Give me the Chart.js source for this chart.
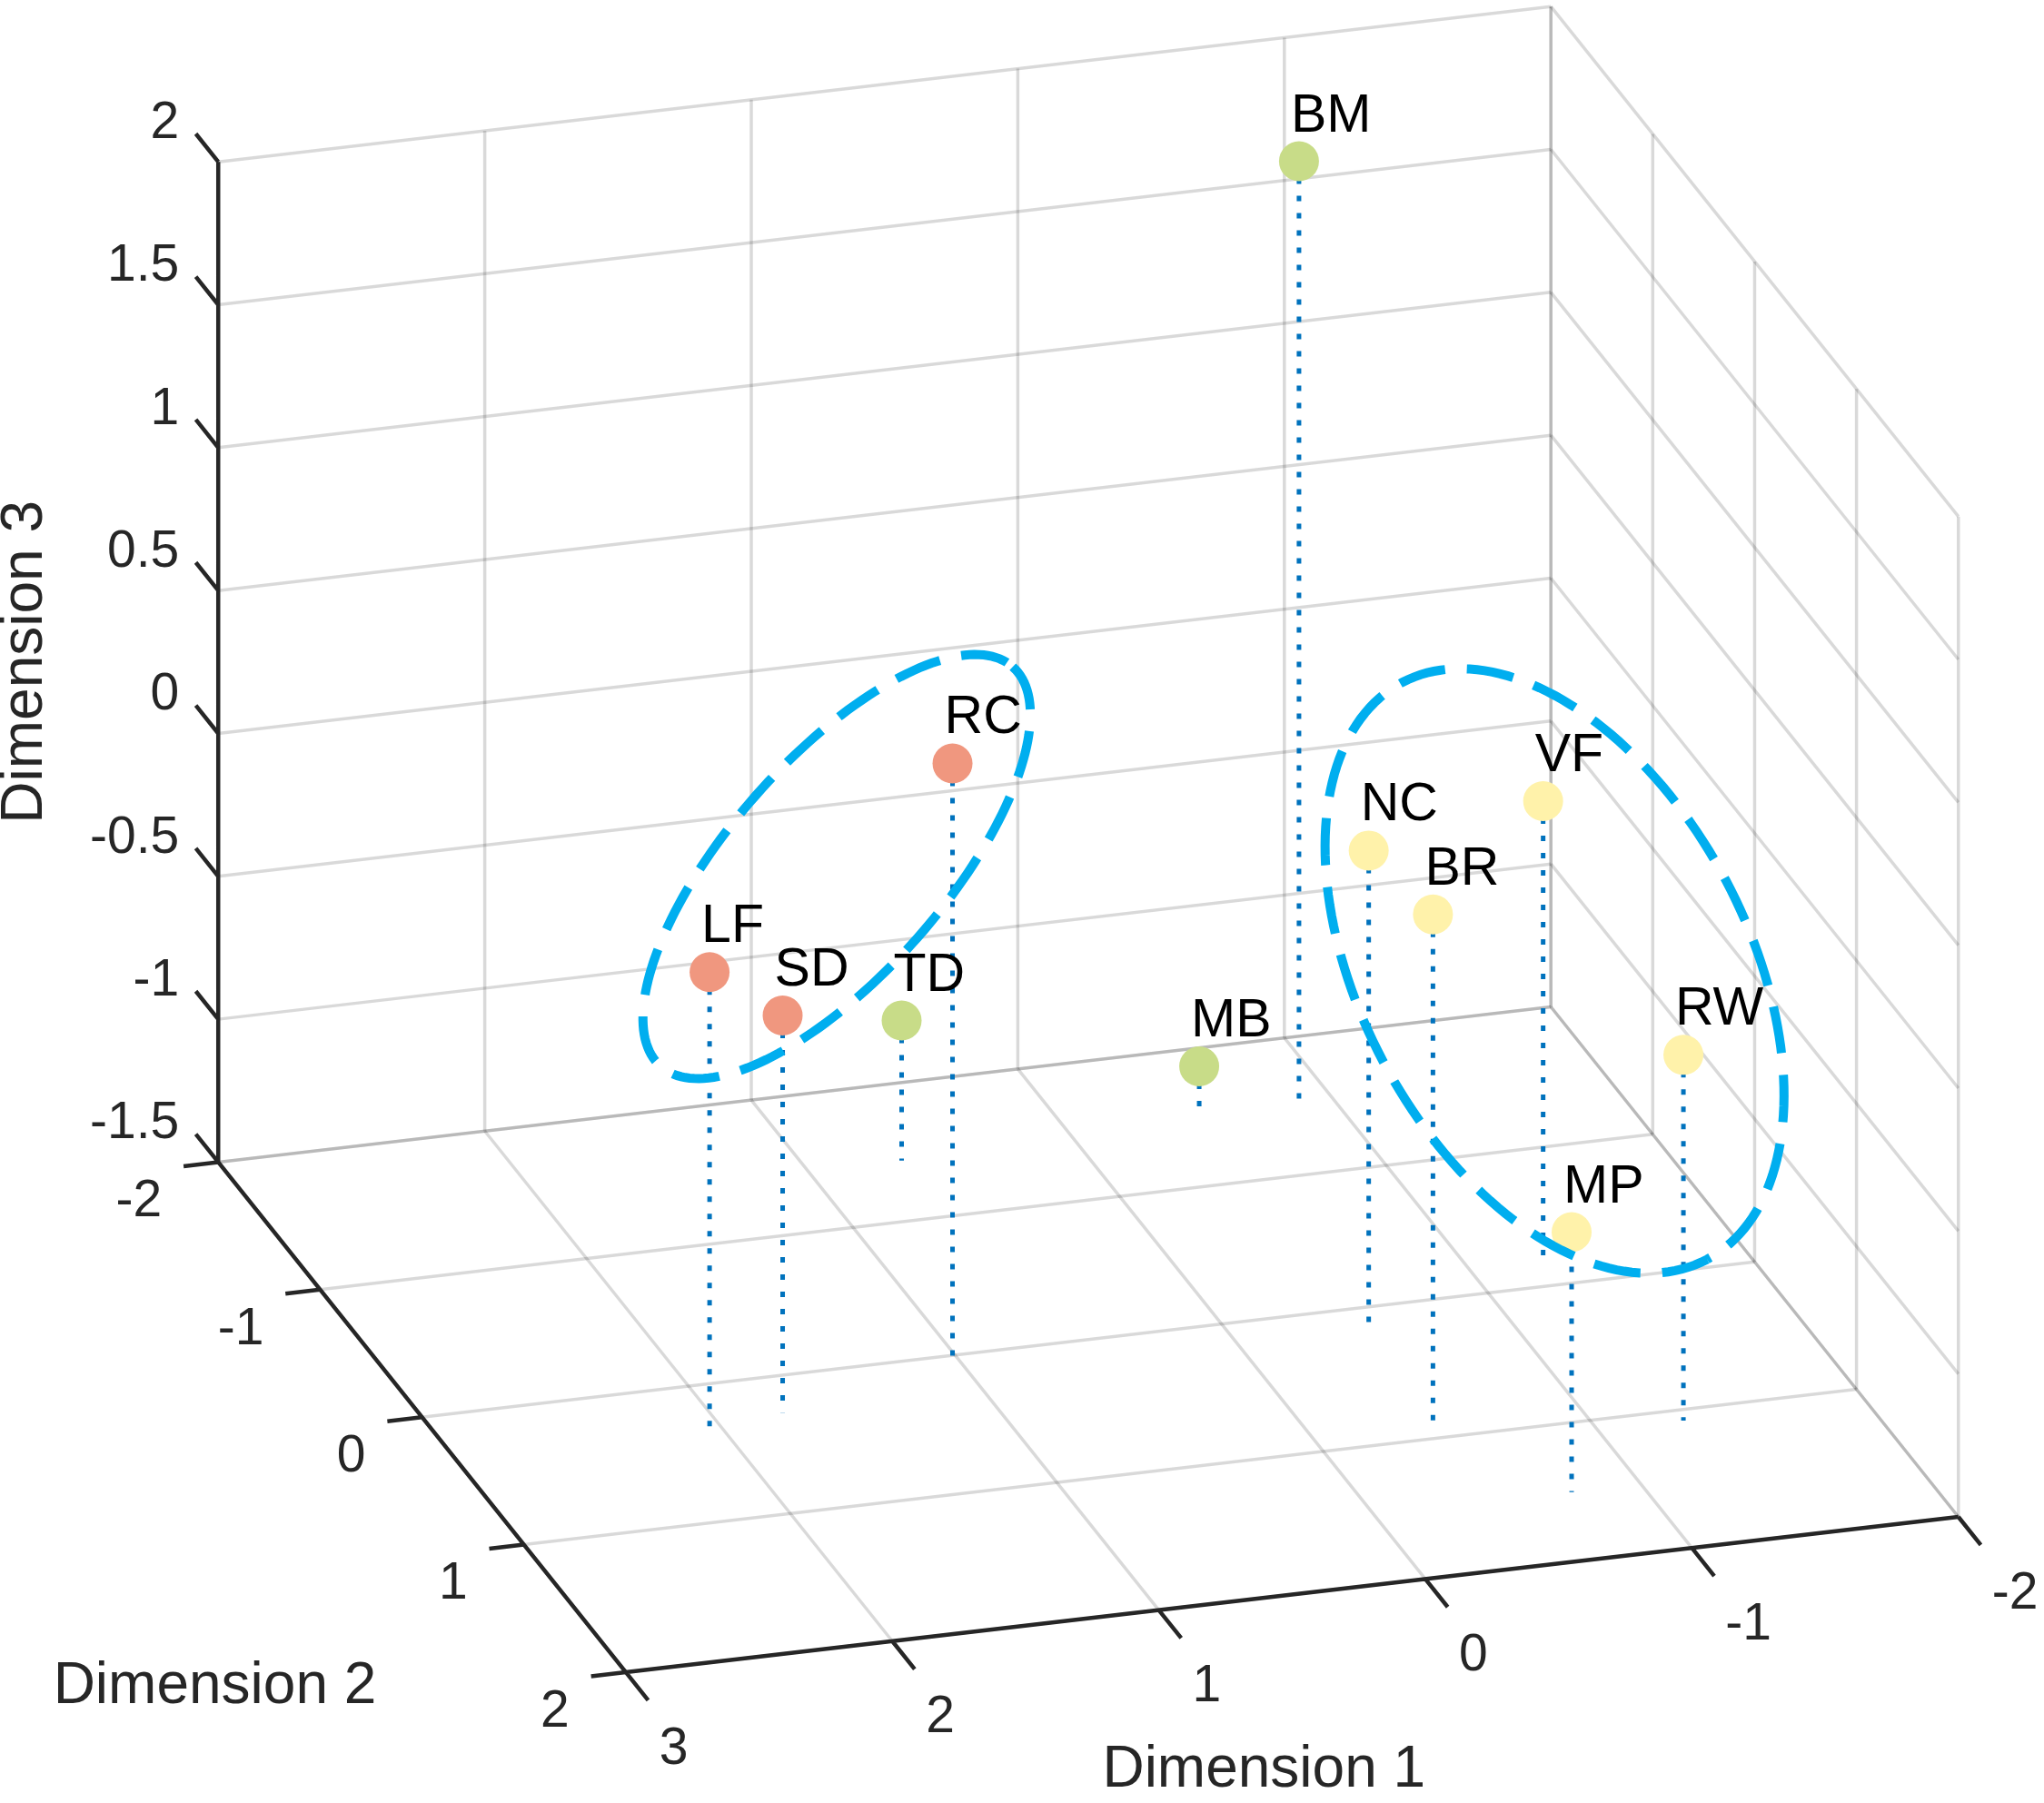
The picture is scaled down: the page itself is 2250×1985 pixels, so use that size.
<!DOCTYPE html>
<html>
<head>
<meta charset="utf-8">
<script src="https://cdn.jsdelivr.net/npm/chart.js@4.4.1/dist/chart.umd.min.js"></script>
<style>
  html, body { margin: 0; padding: 0; background: #fff; }
  #wrap { width: 2250px; height: 1985px; }
</style>
</head>
<body>
<div id="wrap"><canvas id="myChart"></canvas></div>
<script>
// MDS coordinates
const names = ['BM', 'MB', 'TD', 'RC', 'LF', 'SD', 'NC', 'BR', 'VF', 'RW', 'MP'];
const dim1 = [-0.86, -0.52, 0.65, 1.04, 2.07, 1.75, -0.51, -0.43, -1.26, -1.32, -0.74];
const dim2 = [-1.49, -1.58, -1.44, 0.08, 0.39, 0.27, 0.11, 0.95, -0.14, 1.08, 1.50];
const dim3 = [1.81, -1.36, -1.01, 0.61, 0.13, -0.11, 0.15, 0.31, 0.13, -0.22, -0.59];
const groups = ['g', 'g', 'g', 'r', 'r', 'r', 'y', 'y', 'y', 'y', 'y'];

const dim1Ticks = [3, 2, 1, 0, -1, -2];
const dim2Ticks = [-2, -1, 0, 1, 2];
const dim3Ticks = [-1.5, -1, -0.5, 0, 0.5, 1, 1.5, 2];
const dim3TickLabels = ['-1.5', '-1', '-0.5', '0', '0.5', '1', '1.5', '2'];

const groupColors = { r: '#f0977f', g: '#c8dc88', y: '#fff2aa' };

// view: screen position of the (3,-2,-1.5) corner and unit steps along each dimension
const K = 2250 / 1566;
const SPAN_X = 2250 / K, SPAN_Y = 1985 / K;
const view = { ox: 167.2, oy: 890.5, e1: [-204.2, 23.8], e2: [78.05, 97.7], e3: [0, -219] };
const lim1 = [-2, 3], lim2 = [-2, 2], lim3 = [-1.5, 2];

function proj(a, b, c) {
  const da = a - lim1[1], db = b - lim2[0], dc = c - lim3[0];
  return {
    x: view.ox + da * view.e1[0] + db * view.e2[0] + dc * view.e3[0],
    y: view.oy + da * view.e1[1] + db * view.e2[1] + dc * view.e3[1]
  };
}

// hand-drawn group rings (chart units)
const ringCx = [641, 1191];
const ringCy = [664, 744];
const ringA = [204, 250];
const ringB = [82.5, 148.5];
const ringAngle = [-48.6, 62.1];

function ringPoints(i) {
  const th = ringAngle[i] * Math.PI / 180;
  const pts = [];
  for (let k = 0; k <= 180; k++) {
    const t = k / 180 * 2 * Math.PI;
    pts.push({
      x: ringCx[i] + ringA[i] * Math.cos(t) * Math.cos(th) - ringB[i] * Math.sin(t) * Math.sin(th),
      y: ringCy[i] + ringA[i] * Math.cos(t) * Math.sin(th) + ringB[i] * Math.sin(t) * Math.cos(th)
    });
  }
  return pts;
}

const datasets = [];

function gridLine(p, q) {
  datasets.push({
    data: [p, q], showLine: true, pointRadius: 0, borderWidth: 3.5,
    borderColor: 'rgba(0,0,0,0.15)', order: 5
  });
}

// back wall (dim2 = -2)
dim1Ticks.forEach(v => gridLine(proj(v, lim2[0], lim3[0]), proj(v, lim2[0], lim3[1])));
dim3Ticks.forEach(v => gridLine(proj(lim1[1], lim2[0], v), proj(lim1[0], lim2[0], v)));
// side wall (dim1 = -2)
dim2Ticks.forEach(v => gridLine(proj(lim1[0], v, lim3[0]), proj(lim1[0], v, lim3[1])));
dim3Ticks.forEach(v => gridLine(proj(lim1[0], lim2[0], v), proj(lim1[0], lim2[1], v)));
// floor
dim1Ticks.forEach(v => gridLine(proj(v, lim2[0], lim3[0]), proj(v, lim2[1], lim3[0])));
dim2Ticks.forEach(v => gridLine(proj(lim1[1], v, lim3[0]), proj(lim1[0], v, lim3[0])));

// axes and tick marks
const gap = { x: null, y: null };
const axisData = [
  proj(lim1[1], lim2[0], lim3[0]), proj(lim1[1], lim2[0], lim3[1]), gap,
  proj(lim1[1], lim2[0], lim3[0]), proj(lim1[1], lim2[1], lim3[0]), gap,
  proj(lim1[1], lim2[1], lim3[0]), proj(lim1[0], lim2[1], lim3[0]), gap
];
dim3Ticks.forEach(v => axisData.push(proj(lim1[1], lim2[0], v), proj(lim1[1], lim2[0] - 0.22, v), gap));
dim2Ticks.forEach(v => axisData.push(proj(lim1[1], v, lim3[0]), proj(lim1[1] + 0.13, v, lim3[0]), gap));
dim1Ticks.forEach(v => axisData.push(proj(v, lim2[1], lim3[0]), proj(v, lim2[1] + 0.22, lim3[0]), gap));
datasets.push({
  data: axisData, showLine: true, pointRadius: 0, borderWidth: 4.5,
  borderColor: '#262626', order: 4, spanGaps: false
});

// stems down to the floor
const stemData = [];
names.forEach((n, i) => {
  stemData.push(proj(dim1[i], dim2[i], dim3[i]), proj(dim1[i], dim2[i], lim3[0]), gap);
});
datasets.push({
  data: stemData, showLine: true, pointRadius: 0, borderWidth: 5,
  borderColor: '#0072bd', borderDash: [6, 13], order: 3, spanGaps: false
});

// points
const POINTS_INDEX = datasets.length;
datasets.push({
  data: names.map((n, i) => proj(dim1[i], dim2[i], dim3[i])),
  showLine: false, pointRadius: 22, pointHoverRadius: 22, pointBorderWidth: 0,
  pointBackgroundColor: groups.map(g => groupColors[g]), order: 2
});

// rings
[0, 1].forEach(i => datasets.push({
  data: ringPoints(i), showLine: true, pointRadius: 0, borderWidth: 10,
  borderColor: '#00aeef', borderDash: [52, 24], order: 1, tension: 0
}));

const FONT = '"Liberation Sans", Arial, Helvetica, sans-serif';

const textPlugin = {
  id: 'texts',
  afterDatasetDraw(chart, args) {
    if (args.index !== POINTS_INDEX) return;
    const ctx = chart.ctx, sx = chart.scales.x, sy = chart.scales.y;
    ctx.save();
    ctx.fillStyle = '#000';
    ctx.font = '59px ' + FONT;
    ctx.textAlign = 'left';
    ctx.textBaseline = 'alphabetic';
    names.forEach((n, i) => {
      const p = proj(dim1[i], dim2[i], dim3[i]);
      ctx.fillText(n, sx.getPixelForValue(p.x) - 9, sy.getPixelForValue(p.y) - 33);
    });
    ctx.restore();
  },
  afterDraw(chart) {
    const ctx = chart.ctx, sx = chart.scales.x, sy = chart.scales.y;
    const px = p => ({ x: sx.getPixelForValue(p.x), y: sy.getPixelForValue(p.y) });
    ctx.save();
    ctx.fillStyle = '#262626';
    ctx.font = '57px ' + FONT;
    ctx.textBaseline = 'middle';
    ctx.textAlign = 'right';
    dim3Ticks.forEach((v, i) => {
      const p = px(proj(lim1[1], lim2[0], v));
      ctx.fillText(dim3TickLabels[i], p.x - 43, p.y - 42);
    });
    dim2Ticks.forEach(v => {
      const p = px(proj(lim1[1], v, lim3[0]));
      ctx.fillText(String(v), p.x - 62, p.y + 44);
    });
    ctx.textAlign = 'left';
    dim1Ticks.forEach(v => {
      const p = px(proj(v, lim2[1], lim3[0]));
      ctx.fillText(String(v), p.x + 37, p.y + 85);
    });

    ctx.font = '64px ' + FONT;
    ctx.textAlign = 'center';
    const m3 = px(proj(lim1[1], lim2[0], (lim3[0] + lim3[1]) / 2));
    ctx.save();
    ctx.translate(m3.x - 212, m3.y);
    ctx.rotate(-Math.PI / 2);
    ctx.fillText('Dimension 3', 0, 0);
    ctx.restore();
    const m2 = px(proj(lim1[1], (lim2[0] + lim2[1]) / 2, lim3[0]));
    ctx.fillText('Dimension 2', m2.x - 228, m2.y + 297);
    const m1 = px(proj((lim1[0] + lim1[1]) / 2, lim2[1], lim3[0]));
    ctx.fillText('Dimension 1', m1.x - 31, m1.y + 194);
    ctx.restore();
  }
};

new Chart(document.getElementById('myChart').getContext('2d'), {
  type: 'scatter',
  data: { datasets },
  options: {
    responsive: true,
    maintainAspectRatio: false,
    animation: false,
    events: [],
    layout: { padding: 0, autoPadding: false },
    plugins: { legend: { display: false }, tooltip: { enabled: false } },
    scales: {
      x: { type: 'linear', min: 0, max: SPAN_X, display: false },
      y: { type: 'linear', min: 0, max: SPAN_Y, reverse: true, display: false }
    }
  },
  plugins: [textPlugin]
});
</script>
</body>
</html>
